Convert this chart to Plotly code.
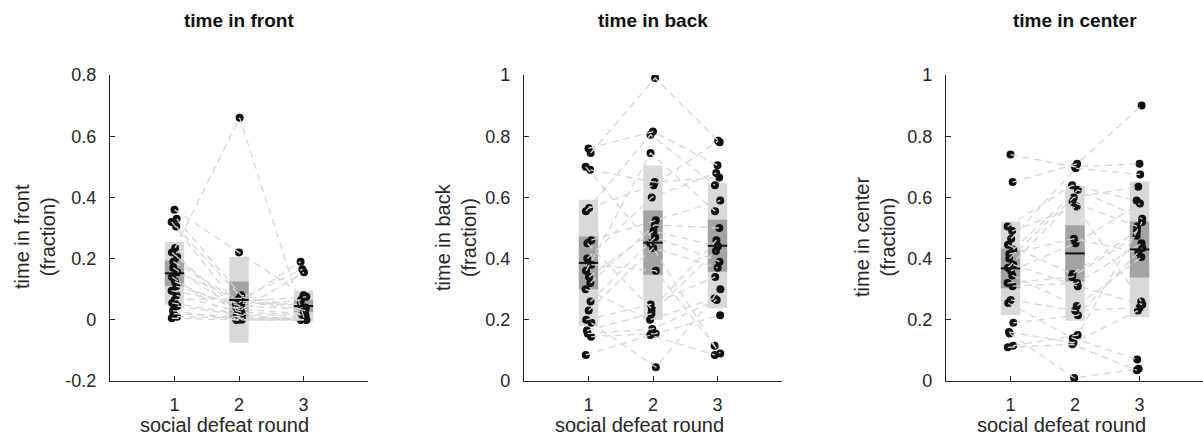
import numpy as np
import plotly.graph_objects as go

rounds = [1, 2, 3]
round_labels = ["1", "2", "3"]

# per-animal fractions, one list per social defeat round (same animal order in each list)
front_r1 = [0.36, 0.33, 0.32, 0.305, 0.235, 0.22, 0.205, 0.19, 0.17, 0.155, 0.14,
            0.125, 0.11, 0.095, 0.08, 0.065, 0.055, 0.045, 0.03, 0.02, 0.01, 0.005]
front_r2 = [0.22, 0.08, 0.05, 0.075, 0.66, 0.04, 0.0, 0.065, 0.035, 0.06, 0.0,
            0.03, 0.045, 0.055, 0.025, 0.07, 0.02, 0.015, 0.0, 0.01, 0.005, 0.0]
front_r3 = [0.08, 0.04, 0.19, 0.03, 0.005, 0.065, 0.0, 0.165, 0.02, 0.075, 0.0,
            0.155, 0.035, 0.05, 0.015, 0.025, 0.01, 0.0, 0.008, 0.003, 0.0, 0.0]

back_r1 = [0.76, 0.745, 0.70, 0.69, 0.565, 0.555, 0.46, 0.45, 0.40, 0.38, 0.36,
           0.34, 0.32, 0.30, 0.26, 0.23, 0.20, 0.19, 0.165, 0.155, 0.145, 0.085]
back_r2 = [0.815, 0.99, 0.45, 0.65, 0.64, 0.805, 0.525, 0.235, 0.60, 0.36, 0.745,
           0.49, 0.51, 0.20, 0.47, 0.435, 0.25, 0.045, 0.22, 0.17, 0.155, 0.15]
back_r3 = [0.705, 0.78, 0.115, 0.665, 0.785, 0.64, 0.59, 0.46, 0.68, 0.09, 0.555,
           0.44, 0.50, 0.27, 0.39, 0.37, 0.34, 0.30, 0.425, 0.265, 0.215, 0.085]

center_r1 = [0.74, 0.65, 0.505, 0.49, 0.465, 0.445, 0.43, 0.415, 0.40, 0.38, 0.37,
             0.36, 0.345, 0.32, 0.31, 0.265, 0.255, 0.19, 0.16, 0.155, 0.115, 0.11]
center_r2 = [0.70, 0.71, 0.64, 0.57, 0.695, 0.35, 0.625, 0.465, 0.60, 0.31, 0.585,
             0.45, 0.245, 0.34, 0.32, 0.23, 0.14, 0.215, 0.125, 0.01, 0.15, 0.12]
center_r3 = [0.71, 0.90, 0.59, 0.26, 0.675, 0.49, 0.53, 0.42, 0.635, 0.25, 0.505,
             0.58, 0.405, 0.475, 0.45, 0.24, 0.07, 0.435, 0.23, 0.04, 0.52, 0.035]

# group summaries per round: mean, standard deviation, confidence half-width
front_mean = [0.152, 0.065, 0.045]
front_sd = [0.102, 0.140, 0.050]
front_ci = [0.042, 0.060, 0.020]

back_mean = [0.386, 0.452, 0.442]
back_sd = [0.206, 0.252, 0.204]
back_ci = [0.086, 0.105, 0.085]

center_mean = [0.368, 0.417, 0.430]
center_sd = [0.153, 0.220, 0.222]
center_ci = [0.065, 0.092, 0.092]

titles = ["time in front", "time in back", "time in center"]
ylabels = ["time in front<br>(fraction)", "time in back<br>(fraction)",
           "time in center<br>(fraction)"]
xlabel = "social defeat round"

front_ticks = [-0.2, 0, 0.2, 0.4, 0.6, 0.8]
front_ticktext = ["-0.2", "0", "0.2", "0.4", "0.6", "0.8"]
unit_ticks = [0, 0.2, 0.4, 0.6, 0.8, 1]
unit_ticktext = ["0", "0.2", "0.4", "0.6", "0.8", "1"]

panels = [
    dict(data=[front_r1, front_r2, front_r3], mean=front_mean, sd=front_sd, ci=front_ci,
         yrange=[-0.2, 0.8], ticks=front_ticks, ticktext=front_ticktext),
    dict(data=[back_r1, back_r2, back_r3], mean=back_mean, sd=back_sd, ci=back_ci,
         yrange=[0, 1], ticks=unit_ticks, ticktext=unit_ticktext),
    dict(data=[center_r1, center_r2, center_r3], mean=center_mean, sd=center_sd,
         ci=center_ci, yrange=[0, 1], ticks=unit_ticks, ticktext=unit_ticktext),
]

W, H = 1203, 436
plot_w = 258                     # axis length in px for x range 0..4
left_px = [110, 524, 946]
top_px, bottom_px = 75, 381
ylabel_px = [35, 456, 875]

LIGHT = "#d9d9d9"
DARK = "#a3a3a3"
LINE_GREY = "#d6d6d6"
INK = "#262626"
FONT = "Liberation Sans, Arial"
BOX_W = 0.3

fig = go.Figure()

for k, p in enumerate(panels):
    xa = "x" if k == 0 else f"x{k + 1}"
    ya = "y" if k == 0 else f"y{k + 1}"
    n = len(p["data"][0])
    jitter = 0.045 * np.sin(np.arange(n) * 2.3)

    # spread band (mean +/- SD)
    fig.add_trace(go.Bar(
        x=rounds, y=[2 * s for s in p["sd"]],
        base=[m - s for m, s in zip(p["mean"], p["sd"])],
        width=BOX_W, marker=dict(color=LIGHT, line=dict(width=0)),
        xaxis=xa, yaxis=ya, showlegend=False, hoverinfo="skip"))
    # confidence band
    fig.add_trace(go.Bar(
        x=rounds, y=[2 * c for c in p["ci"]],
        base=[m - c for m, c in zip(p["mean"], p["ci"])],
        width=BOX_W, marker=dict(color=DARK, line=dict(width=0)),
        xaxis=xa, yaxis=ya, showlegend=False, hoverinfo="skip"))

    # individual animals
    xs_all, ys_all = [], []
    for r, vals in zip(rounds, p["data"]):
        xs_all.extend(list(r + jitter))
        ys_all.extend(vals)
    fig.add_trace(go.Scatter(
        x=xs_all, y=ys_all, mode="markers",
        marker=dict(color="#111111", size=8, line=dict(width=0)),
        xaxis=xa, yaxis=ya, showlegend=False, hoverinfo="skip"))

    # dashed connectors following each animal across rounds
    lx, ly = [], []
    for i in range(n):
        for j, r in enumerate(rounds):
            lx.append(r + jitter[i])
            ly.append(p["data"][j][i])
        lx.append(None)
        ly.append(None)
    fig.add_trace(go.Scatter(
        x=lx, y=ly, mode="lines",
        line=dict(color=LINE_GREY, width=1.3, dash="7px,5px"),
        xaxis=xa, yaxis=ya, showlegend=False, hoverinfo="skip"))

    # mean markers
    mx, my = [], []
    for r, m in zip(rounds, p["mean"]):
        mx += [r - BOX_W / 2, r + BOX_W / 2, None]
        my += [m, m, None]
    fig.add_trace(go.Scatter(
        x=mx, y=my, mode="lines", line=dict(color="#111111", width=2),
        xaxis=xa, yaxis=ya, showlegend=False, hoverinfo="skip"))

    x0 = left_px[k] / W
    x1 = min((left_px[k] + plot_w) / W, 1.0)
    xmax = 4 * (x1 * W - left_px[k]) / plot_w
    axis_common = dict(showline=True, linecolor=INK, linewidth=1.3, ticks="inside",
                       ticklen=5, tickwidth=1.1, tickcolor=INK, showgrid=False,
                       zeroline=False, automargin=False,
                       tickfont=dict(family=FONT, size=18, color=INK))
    fig.update_layout(**{
        ("xaxis" if k == 0 else f"xaxis{k + 1}"): dict(
            domain=[x0, x1], range=[0, xmax], tickvals=rounds, ticktext=round_labels,
            anchor=ya, ticklabelstandoff=7, **axis_common),
        ("yaxis" if k == 0 else f"yaxis{k + 1}"): dict(
            domain=[(H - bottom_px) / H, (H - top_px) / H], range=p["yrange"],
            tickvals=p["ticks"], ticktext=p["ticktext"], anchor=xa,
            ticklabelstandoff=9, **axis_common),
    })

    cx = (left_px[k] + plot_w / 2) / W
    label_kw = dict(xref="paper", yref="paper", showarrow=False,
                    xanchor="center", yanchor="middle")
    fig.add_annotation(text=f"<b>{titles[k]}</b>", x=cx, y=1 - 21 / H,
                       font=dict(family=FONT, size=19, color="#111111"), **label_kw)
    fig.add_annotation(text=xlabel, x=cx - 14 / W, y=1 - 425 / H,
                       font=dict(family=FONT, size=20, color=INK), **label_kw)
    fig.add_annotation(text=ylabels[k], x=ylabel_px[k] / W, y=1 - 237 / H,
                       textangle=-90, font=dict(family=FONT, size=20, color=INK),
                       **label_kw)

fig.update_layout(
    width=W, height=H, margin=dict(l=0, r=0, t=0, b=0, pad=0, autoexpand=False),
    paper_bgcolor="white", plot_bgcolor="white", barmode="overlay",
    showlegend=False,
)

fig.write_html("out.html")
